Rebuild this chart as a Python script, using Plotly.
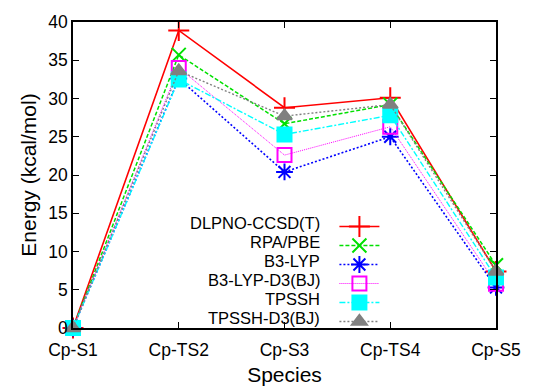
import plotly.graph_objects as go

species = ["Cp-S1", "Cp-TS2", "Cp-S3", "Cp-TS4", "Cp-S5"]
dlpno = [0.0, 38.9, 28.8, 30.1, 7.4]
rpa_pbe = [0.0, 35.7, 26.7, 29.2, 8.2]
b3lyp = [0.0, 32.6, 20.4, 25.0, 5.3]
b3lyp_d3 = [0.0, 34.0, 22.6, 26.3, 5.8]
tpssh = [0.0, 32.5, 25.3, 27.8, 6.6]
tpssh_d3 = [0.0, 33.6, 27.7, 29.2, 7.4]
y_ticks = [0, 5, 10, 15, 20, 25, 30, 35, 40]

series = [
    ("DLPNO-CCSD(T)", dlpno, "#ff0000", "solid", "cross-thin-open", 15, 1.6),
    ("RPA/PBE", rpa_pbe, "#00e000", "4px,2px", "x-thin-open", 14, 1.5),
    ("B3-LYP", b3lyp, "#0000ff", "2px,2px", "asterisk-open", 14, 1.6),
    ("B3-LYP-D3(BJ)", b3lyp_d3, "#ff00ff", "1px,1px", "square-open", 14, 1.0),
    ("TPSSH", tpssh, "#00ffff", "6px,2px,2px,2px", "square", 14, 1.4),
    ("TPSSH-D3(BJ)", tpssh_d3, "#808080", "2px,2px", "triangle-up", 13, 1.4),
]

fig = go.Figure()
for name, vals, color, dash, sym, size, lw in series:
    fig.add_trace(go.Scatter(
        x=list(range(len(species))), y=vals, name=name, mode="lines+markers",
        line=dict(color=color, dash=dash, width=lw),
        marker=dict(symbol=sym, size=size, color=color,
                    line=dict(color=color, width=2)),
        cliponaxis=False,
    ))

font = "Liberation Sans, Arial, Helvetica, sans-serif"
axis_common = dict(showline=True, linecolor="black", linewidth=1.5, mirror="ticks",
                   ticks="inside", ticklen=6, tickcolor="black", tickwidth=1.2,
                   showgrid=False, zeroline=False, automargin=False,
                   tickfont=dict(family=font, size=17.5, color="black"))
fig.update_xaxes(tickmode="array", tickvals=list(range(len(species))), ticktext=species,
                 range=[0, len(species) - 1], ticklabelstandoff=5,
                 title=dict(text="Species", font=dict(family=font, size=21, color="black"),
                            standoff=10),
                 **axis_common)
fig.update_yaxes(tickmode="array", tickvals=y_ticks, range=[0, 40],
                 title=dict(text="Energy (kcal/mol)", font=dict(family=font, size=21, color="black"),
                            standoff=6),
                 **axis_common)

plot_top, plot_h = 22, 306
legend_top_px = 212
legend_x = 0.618
for i, (name, *_rest) in enumerate(series):
    yc = legend_top_px + 10.5 + 19 * i
    fig.add_annotation(xref="paper", yref="paper", x=0.588, y=(plot_top + plot_h - yc) / plot_h,
                       text=name, showarrow=False, xanchor="right", yanchor="middle",
                       font=dict(family=font, size=16.5, color="black"))

fig.update_layout(
    width=541, height=386,
    margin=dict(l=73, r=45, t=22, b=58),
    plot_bgcolor="white", paper_bgcolor="white",
    showlegend=True,
    legend=dict(x=legend_x, y=(plot_top + plot_h - legend_top_px) / plot_h,
                xanchor="left", yanchor="top",
                bgcolor="rgba(0,0,0,0)", font=dict(size=10, color="rgba(0,0,0,0)"),
                itemwidth=40, tracegroupgap=0),
)

fig.write_html("out.html")
